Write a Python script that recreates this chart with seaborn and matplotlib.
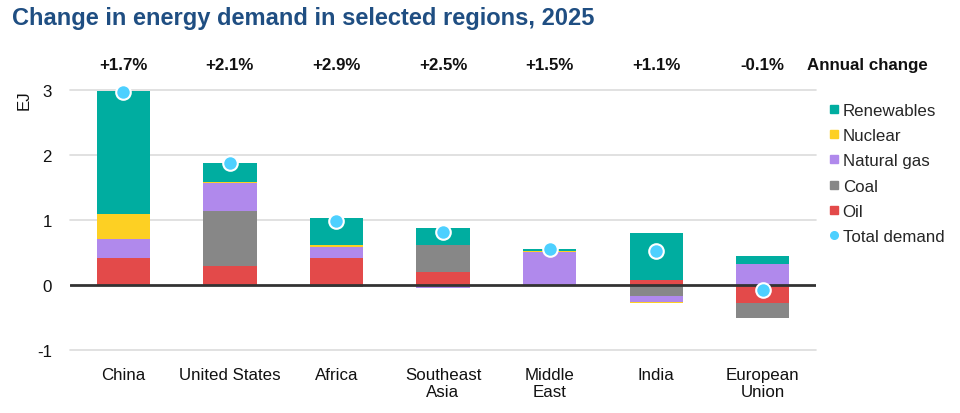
import numpy as np
import pandas as pd
import matplotlib
matplotlib.use("Agg")
import matplotlib.pyplot as plt
from matplotlib.lines import Line2D
import seaborn as sns

regions = ["China", "United States", "Africa", "Southeast\nAsia", "Middle\nEast", "India", "European\nUnion"]
annual_change = ["+1.7%", "+2.1%", "+2.9%", "+2.5%", "+1.5%", "+1.1%", "-0.1%"]
oil = [0.42, 0.30, 0.42, 0.20, 0.00, 0.07, -0.27]
coal = [0.00, 0.84, -0.03, 0.41, 0.00, -0.17, -0.24]
natural_gas = [0.29, 0.43, 0.17, -0.05, 0.51, -0.09, 0.33]
nuclear = [0.38, 0.02, 0.02, 0.00, 0.015, -0.01, 0.00]
renewables = [1.89, 0.29, 0.42, 0.265, 0.035, 0.73, 0.11]
total_demand = [2.97, 1.88, 0.99, 0.82, 0.55, 0.52, -0.07]

layers = ["Oil", "Coal", "Natural gas", "Nuclear", "Renewables"]
values = {"Oil": oil, "Coal": coal, "Natural gas": natural_gas, "Nuclear": nuclear, "Renewables": renewables}
colors = {"Renewables": "#00ADA0", "Nuclear": "#FDD023", "Natural gas": "#B089EC",
          "Coal": "#878787", "Oil": "#E34A4A"}
total_color = "#4DD0FF"

sns.set_theme(style="white")
plt.rcParams["font.family"] = ["Liberation Sans", "DejaVu Sans"]

FS = 12.2
fig = plt.figure(figsize=(9.6, 4.14), dpi=100)
ax = fig.add_axes([70 / 960, 1 - 351 / 414, (816 - 70) / 960, (351 - 91) / 414])

# cumulative positive and negative stacks
arr = np.array([values[k] for k in layers], dtype=float)
pos = np.clip(arr, 0, None).cumsum(axis=0)
neg = np.clip(arr, None, 0).cumsum(axis=0)

for side in (pos, neg):
    for i in range(len(layers) - 1, -1, -1):
        df = pd.DataFrame({"region": regions, "value": side[i]})
        sns.barplot(data=df, x="region", y="value", order=regions, color=colors[layers[i]],
                    saturation=1, width=0.5, errorbar=None, linewidth=0, ax=ax, zorder=2)

sns.scatterplot(x=np.arange(len(regions)), y=total_demand, ax=ax, color=total_color, s=110,
                edgecolor="white", linewidth=1.5, zorder=5, clip_on=False)

ax.set_xlim(-0.5, 6.5)
ax.set_ylim(-1, 3)
ax.set_yticks([-1, 0, 1, 2, 3])
ax.set_yticklabels(["-1", "0", "1", "2", "3"])
for yv in [-1, 1, 2, 3]:
    ax.axhline(yv, color="#DCDCDC", lw=1.2, zorder=0, clip_on=False)
ax.axhline(0, color="#333333", lw=2, zorder=4)
for s in ax.spines.values():
    s.set_visible(False)
ax.tick_params(axis="both", length=0, labelsize=FS, colors="#111111")
ax.tick_params(axis="y", pad=13)
ax.tick_params(axis="x", pad=12)
for t in ax.get_xticklabels():
    t.set_linespacing(1.18)
ax.set_xlabel("")
ax.set_ylabel("")
fig.text(24 / 960, 1 - 100 / 414, "EJ", rotation=90, ha="center", va="center", fontsize=FS, color="#111111")

for i, lab in enumerate(annual_change):
    ax.text(i, 3.4, lab, ha="center", va="center", fontsize=FS, fontweight="bold", color="#111111", clip_on=False)
ax.text(6.42, 3.4, "Annual change", ha="left", va="center", fontsize=FS, fontweight="bold",
        color="#111111", clip_on=False)

fig.text(12 / 960, 1 - 18 / 414, "Change in energy demand in selected regions, 2025", ha="left", va="center",
         fontsize=17, fontweight="bold", color="#1F4E82")

handles = [Line2D([], [], marker="s", linestyle="", markersize=5.5, color=colors[k], label=k)
           for k in ["Renewables", "Nuclear", "Natural gas", "Coal", "Oil"]]
handles.append(Line2D([], [], marker="o", linestyle="", markersize=5.5, color=total_color, label="Total demand"))
fig.legend(handles=handles, loc="upper left", bbox_to_anchor=(830 / 960, 1 - 104 / 414), frameon=False,
           fontsize=FS, handlelength=0.5, handletextpad=0.25, labelspacing=0.6, borderaxespad=0,
           borderpad=0)

fig.savefig("out.png", dpi=100)
